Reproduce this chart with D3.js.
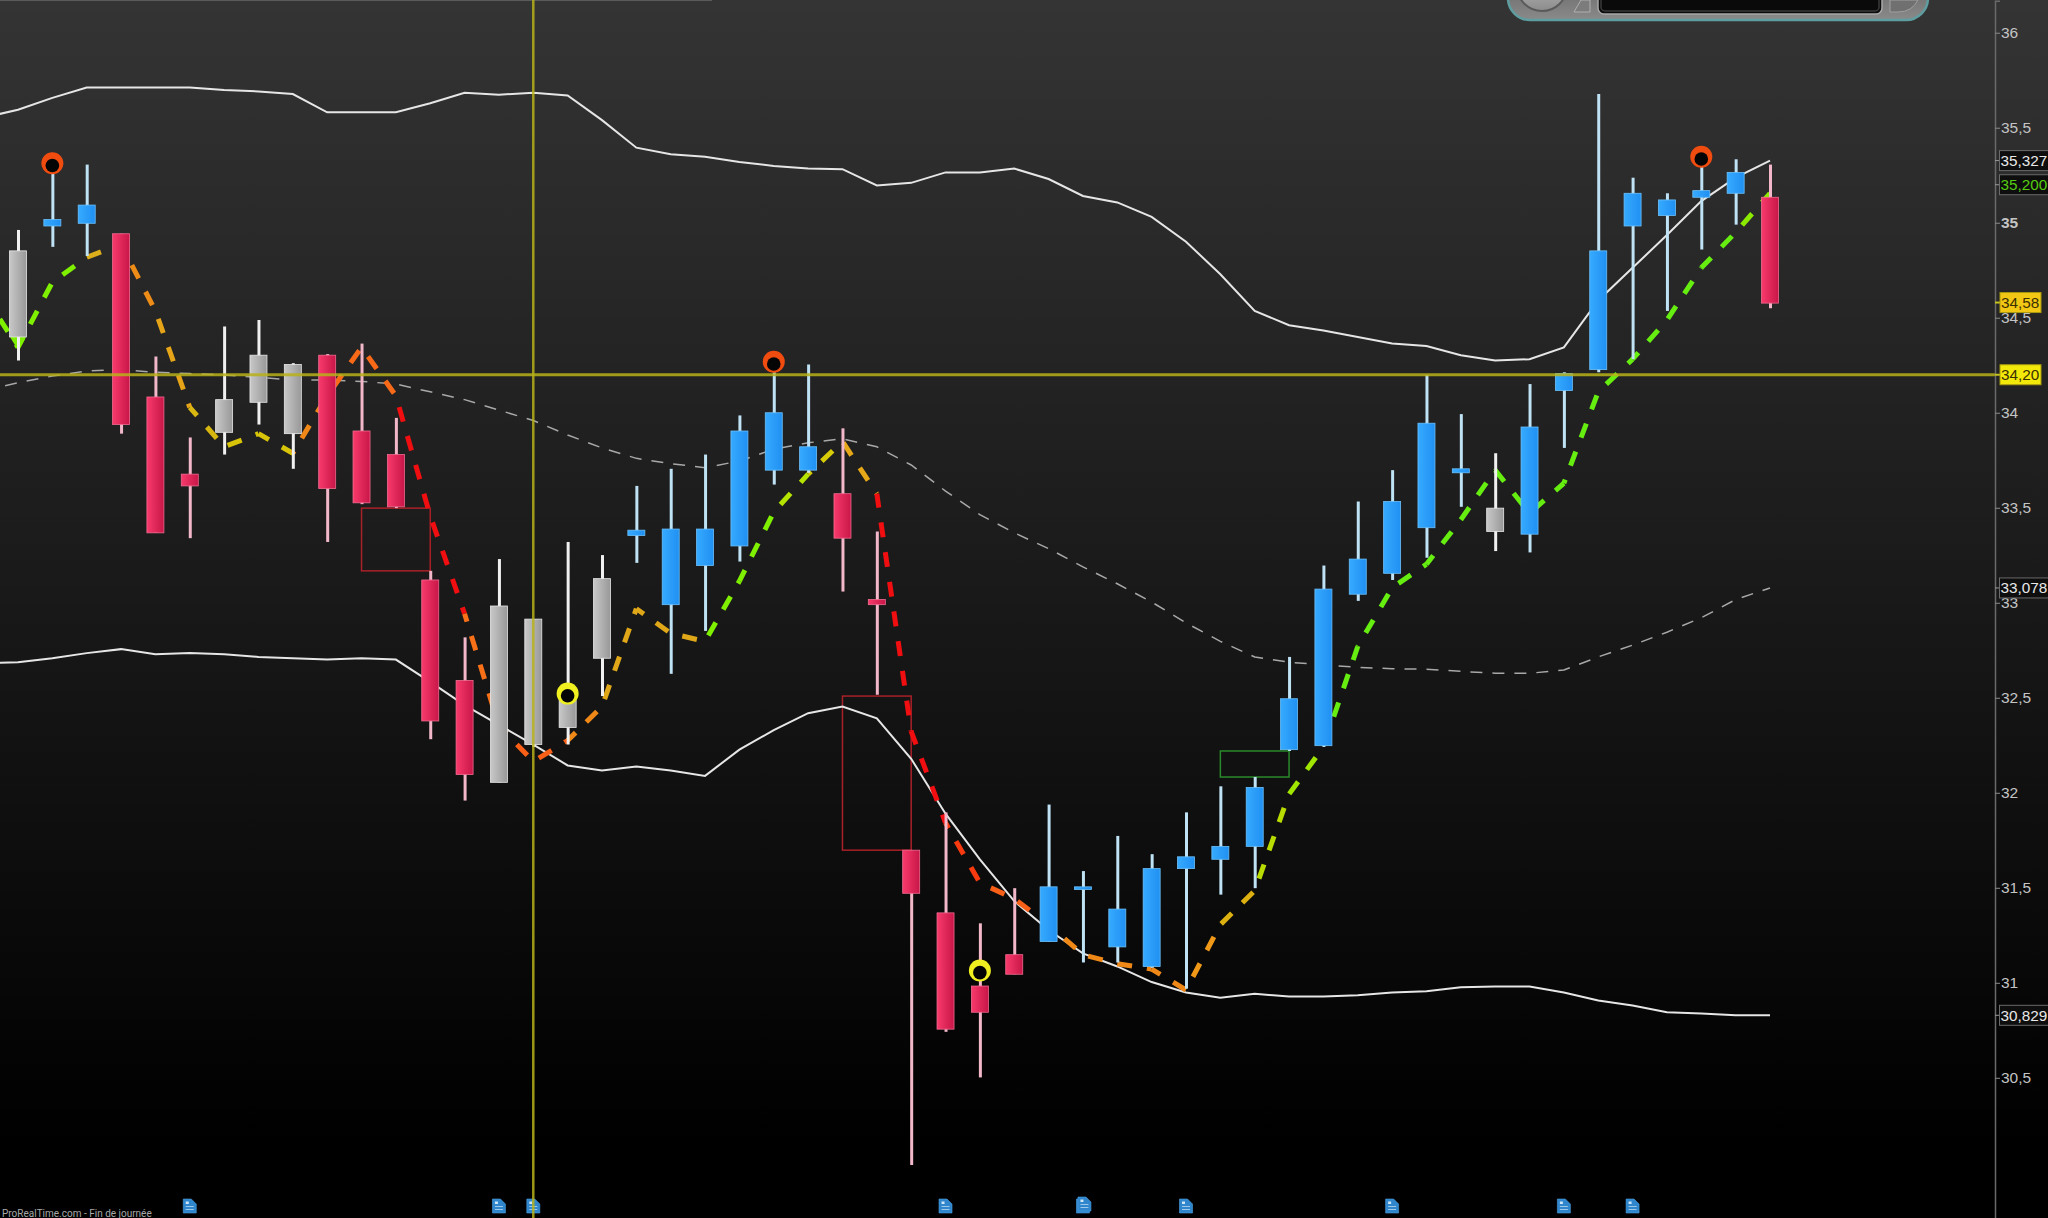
<!DOCTYPE html>
<html><head><meta charset="utf-8">
<style>html,body{margin:0;padding:0;background:#000;overflow:hidden}svg{display:block}</style>
<script src="https://cdn.jsdelivr.net/npm/d3@7/dist/d3.min.js"></script>
</head><body><div id="chart"></div>
<script>
// ---- values ----
const highs=[34.962,35.265,35.306,34.942,34.296,33.870,34.454,34.488,34.261,34.309,34.364,33.973,33.168,32.818,33.230,32.914,33.320,33.251,33.615,33.705,33.780,33.986,34.213,34.254,33.918,33.375,31.698,31.897,31.313,31.498,31.938,31.588,31.773,31.677,31.897,32.034,32.083,32.715,33.196,33.533,33.698,34.199,33.993,33.787,34.151,34.213,35.677,35.237,35.155,35.347,35.334,35.306];
const lows=[34.275,34.873,34.825,33.890,33.368,33.340,33.780,33.938,33.705,33.320,33.519,33.498,32.282,31.959,32.055,32.241,32.254,32.509,33.210,32.626,32.852,33.217,33.622,33.684,33.059,32.516,30.041,30.742,30.502,31.045,31.217,31.107,31.107,31.079,30.969,31.464,31.498,32.220,32.241,33.010,33.120,33.237,33.505,33.272,33.265,33.815,34.213,34.282,34.536,34.859,34.990,34.550];
const opens=[34.399,34.983,34.997,34.942,34.083,33.677,33.897,34.055,33.890,34.303,33.904,33.780,33.120,32.591,32.055,32.254,32.344,32.708,33.354,32.990,33.196,33.299,33.698,33.698,33.574,33.017,31.698,31.368,30.983,31.148,31.217,31.491,31.189,31.086,31.601,31.650,31.718,32.227,32.248,33.045,33.155,33.395,33.684,33.375,33.361,34.117,34.227,34.983,35.038,35.134,35.155,35.134];
const closes=[34.852,35.017,35.093,33.938,33.368,33.615,34.069,34.303,34.254,33.601,33.526,33.505,32.378,32.096,32.983,32.914,32.495,33.127,33.382,33.388,33.388,33.904,34.000,33.821,33.340,32.990,31.471,30.756,30.845,31.045,31.505,31.505,31.388,31.601,31.663,31.718,32.028,32.495,33.072,33.230,33.533,33.945,33.705,33.498,33.925,34.206,34.852,35.155,35.120,35.169,35.265,34.577];
const neutralDays=[0,6,7,8,14,15,16,17,43];
// indicators start one session before the first visible candle
const firstLineDay=-1;
const upperBand=[35.553,35.595,35.657,35.712,35.712,35.712,35.712,35.698,35.691,35.677,35.581,35.581,35.581,35.629,35.684,35.674,35.684,35.670,35.540,35.395,35.361,35.347,35.320,35.299,35.285,35.282,35.196,35.210,35.265,35.265,35.285,35.230,35.141,35.107,35.031,34.900,34.729,34.536,34.461,34.433,34.399,34.364,34.351,34.303,34.275,34.282,34.344,34.591,34.763,34.935,35.114,35.237,35.327];
const lowerBand=[32.681,32.687,32.708,32.735,32.756,32.729,32.735,32.729,32.715,32.708,32.701,32.708,32.701,32.584,32.461,32.357,32.254,32.144,32.117,32.138,32.117,32.089,32.227,32.330,32.419,32.454,32.392,32.179,31.890,31.650,31.430,31.278,31.155,31.086,31.004,30.949,30.921,30.942,30.928,30.928,30.935,30.949,30.955,30.976,30.980,30.980,30.949,30.907,30.880,30.845,30.839,30.829,30.829];
const midBand=[34.117,34.158,34.193,34.220,34.227,34.213,34.206,34.199,34.186,34.172,34.172,34.165,34.151,34.110,34.069,34.014,33.959,33.883,33.815,33.760,33.732,33.711,33.746,33.808,33.842,33.863,33.821,33.725,33.588,33.464,33.368,33.285,33.189,33.100,33.004,32.894,32.797,32.715,32.687,32.674,32.660,32.653,32.650,32.639,32.629,32.629,32.646,32.715,32.777,32.845,32.921,33.017,33.078];
const trendLine=[34.626,34.344,34.687,34.818,34.887,34.536,34.028,33.821,33.890,33.787,34.089,34.344,34.089,33.457,32.942,32.351,32.165,32.275,32.454,32.969,32.839,32.797,33.114,33.478,33.677,33.849,33.574,32.323,31.842,31.526,31.443,31.306,31.148,31.100,31.072,30.962,31.306,31.485,31.993,32.241,32.770,33.079,33.203,33.437,33.698,33.471,33.629,34.110,34.282,34.488,34.763,34.949,35.155];
const trendColors=["#7ff000","#7ff000","#7ff000","#dcae1c","#ee8c18","#e6a418","#d8b810","#d8c408","#d8c408","#f08818","#f86a18","#f86a18","#f00e10","#f00e10","#f87018","#f86018","#f86018","#f08818","#e0a818","#e0a818","#e0a818","#7ff000","#7ff000","#b4e400","#d8cc08","#e6a818","#f00e10","#f00e10","#f83a10","#f86018","#f86018","#f08818","#f08818","#f08818","#f08818","#f09818","#dcb010","#b8dc00","#a0e600","#66ee11","#66ee11","#66ee11","#66ee11","#66ee11","#66ee11","#66ee11","#66ee11","#66ee11","#66ee11","#66ee11","#66ee11","#8cea00"];
const ringDays=[1,22,49,16,28];
const ringPrices=[35.313,34.268,35.347,32.522,31.065];
const ringColors=["#f04c10","#f04c10","#f04c10","#f0f020","#f0f020"];
const boxFrom=[10,24,35];
const boxTo=[12,26,37];
const boxTop=[33.498,32.509,32.220];
const boxBottom=[33.168,31.698,32.083];
const boxColors=["#a82028","#a82028","#2a8a2a"];
const docDays=[5,14,15,27,31,31,34,40,45,47];
const tickValues=[36,35.5,35,34.5,34,33.5,33,32.5,32,31.5,31,30.5];
const boxedLabels=[35.327,35.200,33.078,30.829];
const boxedColors=["#e8e8e8","#55cc11","#e8e8e8","#e8e8e8"];
const yellowLabels=[34.58,34.20];
const yellowFills=["#f2c814","#f2e80a"];
const crosshairDay=15;
const crosshairPrice=34.20;
const footerText="ProRealTime.com - Fin de journée";

// ---- drawing ----
const W=2048,H=1218,axisX=1995;
const x=d3.scaleLinear().domain([0,51]).range([18,1770]);
const y=d3.scaleLinear().domain([36.168,29.758]).range([0.8,H+0.8]);
const fmt=(v,d)=>(d==null?String(v):v.toFixed(d)).replace(".",",");
const svg=d3.select("#chart").append("svg").attr("width",W).attr("height",H).attr("viewBox",`0 0 ${W} ${H}`);
const defs=svg.append("defs");
function grad(id,a,b,horizontal){const g=defs.append("linearGradient").attr("id",id);
  if(!horizontal)g.attr("x1",0).attr("x2",0).attr("y1",0).attr("y2",1);
  g.append("stop").attr("offset",0).attr("stop-color",a);g.append("stop").attr("offset",1).attr("stop-color",b);}
grad("bg","#343434","#000000");
grad("red","#f83a6c","#c81648",true);
grad("blue","#36aaff","#2090f2",true);
grad("gray","#c8c8c8","#989898",true);
grad("panel","#555555","#8a8a8a");
grad("knob","#d0d0d0","#8c8c8c");

defs.select("#bg").attr("gradientUnits","userSpaceOnUse").attr("x1",0).attr("x2",0).attr("y1",0).attr("y2",1140);
svg.append("rect").attr("width",W).attr("height",H).attr("fill","url(#bg)");
svg.append("line").attr("x1",0).attr("x2",712).attr("y1",0.5).attr("y2",0.5).attr("stroke","#5a5a5a");

// widget at the top of the screen
const widget=svg.append("g");
widget.append("rect").attr("x",1508).attr("y",-40).attr("width",420).attr("height",60).attr("rx",22).attr("fill","url(#panel)").attr("stroke","#5e9ea0").attr("stroke-width",2.5);
widget.append("circle").attr("cx",1542).attr("cy",-14).attr("r",25).attr("fill","url(#knob)").attr("stroke","#5a5a5a").attr("stroke-width",2);
widget.append("path").attr("d","M1574 12 L1590 12 L1590 0 L1581 0 Z").attr("fill","#7c7c7c").attr("stroke","#b0b0b0");
widget.append("rect").attr("x",1598).attr("y",-20).attr("width",284).attr("height",34).attr("rx",6).attr("fill","#0c0c0c").attr("stroke","#a8a8a8").attr("stroke-width",1.5);
widget.append("rect").attr("x",1601).attr("y",-20).attr("width",278).attr("height",31).attr("rx",4).attr("fill","#0a0a0a").attr("stroke","#3a3a3a").attr("stroke-width",1.5);
widget.append("path").attr("d","M1890 0 L1918 0 Q1912 12 1898 12 L1890 12 Z").attr("fill","#707070").attr("stroke","#a0a0a0");

const plot=svg.append("g");
const lineDays=upperBand.map((_,i)=>i+firstLineDay);
const line=d3.line().x((d,i)=>x(lineDays[i])).y(d=>y(d));

// signal boxes
plot.selectAll("rect.box").data(boxFrom).join("rect").attr("class","box")
 .attr("x",d=>x(d)).attr("width",(d,i)=>x(boxTo[i])-x(d))
 .attr("y",(d,i)=>y(boxTop[i])).attr("height",(d,i)=>y(boxBottom[i])-y(boxTop[i]))
 .attr("fill","none").attr("stroke",(d,i)=>boxColors[i]).attr("stroke-width",1.5);

// bands
plot.append("path").attr("d",line(upperBand)).attr("fill","none").attr("stroke","#e6e6e6").attr("stroke-width",2);
plot.append("path").attr("d",line(lowerBand)).attr("fill","none").attr("stroke","#e6e6e6").attr("stroke-width",2);
plot.append("path").attr("d",line(midBand)).attr("fill","none").attr("stroke","#a8a8a8").attr("stroke-width",1.5).attr("stroke-dasharray","12 10");

// coloured dashed trend line: one segment per session with a continuous dash phase
let run=0;
trendColors.forEach((c,i)=>{
  const x0=x(lineDays[i]),y0=y(trendLine[i]),x1=x(lineDays[i+1]),y1=y(trendLine[i+1]);
  plot.append("line").attr("x1",x0).attr("y1",y0).attr("x2",x1).attr("y2",y1)
   .attr("stroke",c).attr("stroke-width",5).attr("stroke-dasharray","15 15").attr("stroke-dashoffset",run);
  run+=Math.hypot(x1-x0,y1-y0);
});

// candles
const bw=17;
const kind=i=>neutralDays.includes(i)?"gray":(closes[i]>=opens[i]?"blue":"red");
const wickCol={gray:"#f0f0f0",blue:"#bfe2f5",red:"#f2b8ca"};
const edgeCol={gray:"#e8e8e8",blue:"#6cc0fa",red:"#f06a90"};
// green arrow under the first grey candle
plot.append("path").attr("d",`M${x(0)-8} ${y(opens[0])} L${x(0)+8} ${y(opens[0])} L${x(0)} ${y(opens[0])+13} Z`).attr("fill","#7ff000");
const candles=plot.selectAll("g.c").data(highs).join("g").attr("class","c");
candles.append("line").attr("x1",(d,i)=>x(i)+0.5).attr("x2",(d,i)=>x(i)+0.5)
 .attr("y1",d=>y(d)).attr("y2",(d,i)=>y(lows[i]))
 .attr("stroke",(d,i)=>wickCol[kind(i)]).attr("stroke-width",3);
candles.append("rect").attr("x",(d,i)=>x(i)-bw/2).attr("width",bw)
 .attr("y",(d,i)=>y(Math.max(opens[i],closes[i])))
 .attr("height",(d,i)=>Math.abs(y(opens[i])-y(closes[i])))
 .attr("fill",(d,i)=>`url(#${kind(i)})`).attr("stroke",(d,i)=>edgeCol[kind(i)]).attr("stroke-width",0.8);

// ring markers
const rings=plot.selectAll("g.r").data(ringDays).join("g").attr("class","r")
 .attr("transform",(d,i)=>`translate(${x(d)},${y(ringPrices[i])})`);
rings.append("circle").attr("r",11).attr("fill",(d,i)=>ringColors[i]);
rings.append("circle").attr("cy",2.2).attr("r",6.8).attr("fill","#050505");

// document icons (day 31 carries two overlapping notes)
const docs=svg.selectAll("g.d").data(docDays).join("g").attr("class","d")
 .attr("transform",(d,i)=>`translate(${x(d)-6.5+(i===5?1.5:0)},${i===5?1197:1199})`);
docs.append("path").attr("d","M0 0 H8 L13 5 V14 H0 Z").attr("fill","#2f86cc").attr("stroke","#4aa0e0").attr("stroke-width",.6);
docs.append("path").attr("d","M2.5 7.5 H10.5 M2.5 10.5 H10.5").attr("stroke","#9cc8ea").attr("stroke-width",1);
docs.append("rect").attr("x",2.5).attr("y",2.5).attr("width",3).attr("height",2.5).attr("fill","#cfe6f6");

// crosshair
svg.append("line").attr("x1",x(crosshairDay)).attr("x2",x(crosshairDay)).attr("y1",0).attr("y2",H).attr("stroke","#b8b21a").attr("stroke-opacity",.85).attr("stroke-width",2.5);
svg.append("line").attr("x1",0).attr("x2",axisX).attr("y1",y(crosshairPrice)).attr("y2",y(crosshairPrice)).attr("stroke","#b8b21a").attr("stroke-opacity",.85).attr("stroke-width",3);

// price axis
const axis=d3.axisRight(y).tickValues(tickValues).tickSize(5).tickPadding(1).tickFormat(v=>fmt(v));
const ax=svg.append("g").attr("transform",`translate(${axisX},0)`).call(axis);
ax.select(".domain").attr("stroke","#6a6a6a").attr("stroke-width",1.5);
ax.selectAll(".tick line").attr("stroke","#8a8a8a");
ax.selectAll(".tick text").attr("fill","#c4c4c4").style("font-family","'Liberation Sans',Arial,sans-serif").style("font-size","15.5px")
  .style("font-weight",d=>d===35?"bold":"normal");

const font=s=>s.style("font-family","'Liberation Sans',Arial,sans-serif").style("font-size","15.3px");
const labels=svg.selectAll("g.bl").data(boxedLabels).join("g").attr("class","bl").attr("transform",d=>`translate(0,${y(d)})`);
labels.append("line").attr("x1",axisX).attr("x2",axisX+5).attr("stroke","#999");
labels.append("rect").attr("x",1999.5).attr("y",-10).attr("width",60).attr("height",20).attr("fill","#0e0e0e").attr("stroke","#6a6a6a");
font(labels.append("text").attr("x",2000.5).attr("y",5.5).attr("fill",(d,i)=>boxedColors[i]).text(d=>fmt(d,3)));

const ylabels=svg.selectAll("g.yl").data(yellowLabels).join("g").attr("class","yl").attr("transform",d=>`translate(0,${y(d)})`);
ylabels.append("line").attr("x1",axisX).attr("x2",axisX+5).attr("stroke","#c8c21c").attr("stroke-width",2);
ylabels.append("rect").attr("x",2000).attr("y",-10).attr("width",41).attr("height",20).attr("fill",(d,i)=>yellowFills[i]).attr("stroke","#a89a10");
font(ylabels.append("text").attr("x",2001).attr("y",5.5).attr("fill","#3a3000").text(d=>fmt(d,2)));

svg.append("text").attr("x",2).attr("y",1217).attr("fill","#a8a8a8").style("font-family","Roboto,'Liberation Sans',sans-serif").style("font-size","10px").text(footerText);
</script></body></html>
